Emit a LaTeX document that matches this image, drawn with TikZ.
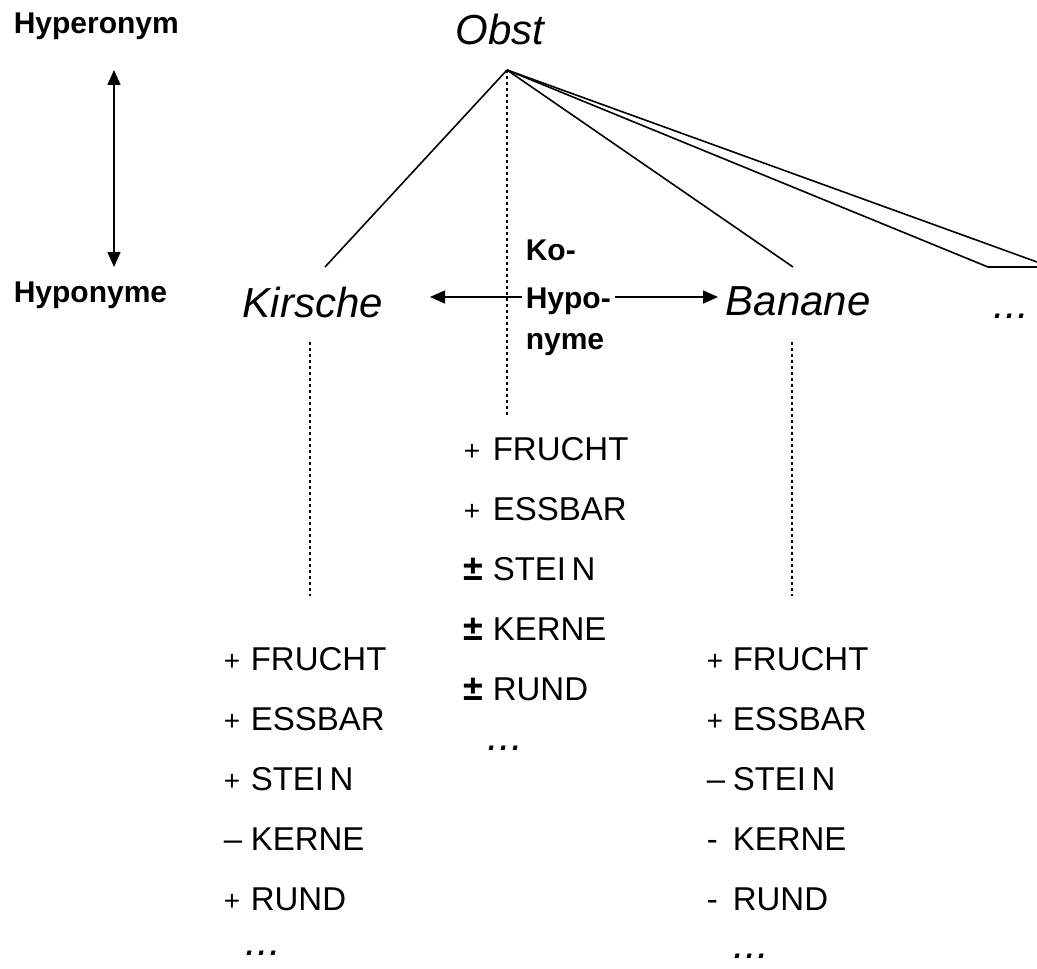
\documentclass[tikz,border=0pt]{standalone}
\usepackage{fontspec}
\setmainfont{Liberation Sans}
\usetikzlibrary{arrows.meta}
\tikzset{
  wordnode/.style={font=\fontsize{21}{21}\selectfont\itshape,inner sep=0pt,anchor=base west},
  labnode/.style={font=\fontsize{15}{15}\selectfont\bfseries,inner sep=0pt,anchor=base west},
  featnode/.style={font=\fontsize{16.5}{16.5}\selectfont,inner sep=0pt,anchor=base west},
  twoway/.style={{Triangle[length=7.5pt,width=6.5pt]}-{Triangle[length=7.5pt,width=6.5pt]},line width=0.8pt},
  oneway/.style={-{Triangle[length=7.5pt,width=6.5pt]},line width=0.8pt},
  dotline/.style={line width=1pt,dash pattern=on 1.5pt off 1.5pt}
}
\newcommand{\plk}{{\fontsize{14}{14}\selectfont +}}
\newcommand{\pmk}{{\fontsize{18}{18}\selectfont\bfseries ±}}
\begin{document}
\begin{tikzpicture}[x=0.5pt,y=-0.5pt,line width=0.8pt]
\useasboundingbox (0,0) rectangle (1037,968);
% Ebenen links
\node[labnode](hyper)at(13,34){Hyperonym};
\node[labnode](hypo)at(13,302){Hyponyme};
\coordinate(vtop)at(114,70); \coordinate(vbot)at(114,267);
\draw[twoway](vtop)--(vbot);
% Baum
\node[wordnode](obst)at(455,45){Obst};
\node[wordnode](kir)at(242,317){Kirsche};
\node[wordnode](ban)at(725,315){Banane};
\node[wordnode](more)at(993,318){...};
\coordinate(apex)at(507,70);
\coordinate(kirtop)at(325,267); \coordinate(bantop)at(793,267);
\coordinate(moretop)at(988,267); \coordinate(moreend)at(1037,267); \coordinate(moreup)at(1037,262);
\draw(apex)--(kirtop); \draw(apex)--(bantop); \draw(apex)--(moretop)--(moreend); \draw(apex)--(moreup);
% Ko-Hyponyme
\node[labnode](ko)at(525,260){Ko-};
\node[labnode](kohyp)at(525,308){Hypo-};
\node[labnode](nyme)at(525,349){nyme};
\coordinate(la)at(522,297); \coordinate(lb)at(430,297);
\coordinate(ra)at(615,297); \coordinate(rb)at(718,297);
\draw[oneway](la)--(lb); \draw[oneway](ra)--(rb);
% gepunktete Linien
\coordinate(mend)at(507,415);
\coordinate(ka)at(310,342); \coordinate(kb)at(310,596);
\coordinate(ba)at(792,342); \coordinate(bb)at(792,596);
\draw[dotline](apex)--(mend); \draw[dotline](ka)--(kb); \draw[dotline](ba)--(bb);
% Merkmale
\foreach \sg/\w [count=\i] in {\plk/FRUCHT,\plk/ESSBAR,\pmk/STEI\,N,\pmk/KERNE,\pmk/RUND}{\node[featnode](mf\i)at(463,400+60*\i){\makebox[14.5pt][l]{\sg}\w};}
\foreach \sg/\w [count=\i] in {\plk/FRUCHT,\plk/ESSBAR,\plk/STEI\,N,--/KERNE,\plk/RUND}{\node[featnode](kf\i)at(223,610+60*\i){\makebox[13.5pt][l]{\sg}\w};}
\foreach \sg/\w [count=\i] in {\plk/FRUCHT,\plk/ESSBAR,--/STEI\,N,-/KERNE,-/RUND}{\node[featnode](bf\i)at(706,610+60*\i){\makebox[13pt][l]{\sg}\w};}
\node[wordnode](mdots)at(487,750){...};
\node[wordnode](kdots)at(245,955){...};
\node[wordnode](bdots)at(733,958){...};
\end{tikzpicture}
\end{document}
